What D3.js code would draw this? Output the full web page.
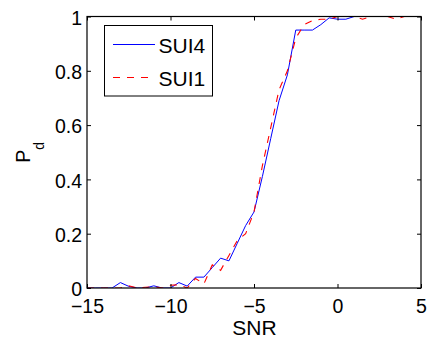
<!DOCTYPE html>
<html>
<head>
<meta charset="utf-8">
<script src="https://cdn.jsdelivr.net/npm/d3@7"></script>
<style>
  html, body { margin: 0; padding: 0; background: #fff; }
  svg { display: block; }
  text { font-family: "Liberation Sans", Arial, sans-serif; fill: #000; }
</style>
</head>
<body>
<svg id="chart" width="430" height="338"></svg>
<script>
const snr = [-15, -14.5, -14, -13.5, -13, -12.5, -12, -11.5, -11, -10.5, -10, -9.5, -9, -8.5, -8, -7.5, -7, -6.5, -6, -5.5, -5, -4.5, -4, -3.5, -3, -2.5, -2, -1.5, -1, -0.5, 0, 0.5, 1, 1.5, 2, 2.5, 3, 3.5, 4, 4.5, 5];
const sui4 = [0, 0, 0, 0, 0.02, 0.006, 0, 0, 0.008, 0, 0, 0.02, 0.007, 0.04, 0.04, 0.075, 0.11, 0.10, 0.165, 0.23, 0.28, 0.41, 0.55, 0.69, 0.785, 0.95, 0.95, 0.95, 0.97, 0.995, 0.99, 0.99, 1, 1, 1, 1, 1, 1, 1, 1, 1];
const sui1 = [0, 0, 0, 0, 0, 0.008, 0, 0.003, 0.005, 0, 0.01, 0.012, 0, 0.035, 0.015, 0.085, 0.065, 0.12, 0.175, 0.2, 0.28, 0.45, 0.59, 0.73, 0.8, 0.92, 0.97, 0.985, 0.99, 0.99, 1, 1, 1, 0.99, 1, 1, 1, 0.99, 1, 1, 1];
const xTicks = [-15, -10, -5, 0, 5];
const yTicks = [0, 0.2, 0.4, 0.6, 0.8, 1];
const seriesNames = ["SUI4", "SUI1"];

const svg = d3.select("#chart");
const L = 87, R = 421, T = 16.5, B = 288;
const x = d3.scaleLinear().domain([-15, 5]).range([L, R]);
const y = d3.scaleLinear().domain([0, 1]).range([B, T]);
const fs = 19.5;
const tickLen = 4;

svg.append("clipPath").attr("id", "clip")
  .append("rect").attr("x", L).attr("y", T - 2).attr("width", R - L).attr("height", B - T + 2);

// lines
const line = (vals) => d3.line().x((d, i) => x(snr[i])).y(d => y(d))(vals);
const g = svg.append("g").attr("clip-path", "url(#clip)");
g.append("path").attr("d", line(sui4)).attr("fill", "none")
  .attr("stroke", "#0000ff").attr("stroke-width", 1);
g.append("path").attr("d", line(sui1)).attr("fill", "none")
  .attr("stroke", "#ff0000").attr("stroke-width", 1.1).attr("stroke-dasharray", "7,7");

// axes with inward ticks
const fmt = d => (d < 0 ? "\u2212" + Math.abs(d) : String(d));
const xAxis = svg.append("g").attr("transform", `translate(0,${B})`)
  .call(d3.axisBottom(x).tickValues(xTicks).tickSizeInner(-tickLen).tickSizeOuter(0).tickPadding(11.5).tickFormat(fmt));
const yAxis = svg.append("g").attr("transform", `translate(${L},0)`)
  .call(d3.axisLeft(y).tickValues(yTicks).tickSizeInner(-tickLen).tickSizeOuter(0).tickPadding(5).tickFormat(d => String(d)));
const xTop = svg.append("g").attr("transform", `translate(0,${T})`)
  .call(d3.axisTop(x).tickValues(xTicks).tickSizeInner(-tickLen).tickSizeOuter(0).tickFormat(""));
const yRight = svg.append("g").attr("transform", `translate(${R},0)`)
  .call(d3.axisRight(y).tickValues(yTicks).tickSizeInner(-tickLen).tickSizeOuter(0).tickFormat(""));
[xAxis, yAxis, xTop, yRight].forEach(a => {
  a.select(".domain").remove();
  a.selectAll("line").attr("stroke", "#000").attr("stroke-width", 1);
  a.selectAll("text").style("font-size", fs + "px").style("font-family", '"Liberation Sans", Arial, sans-serif').attr("fill", "#000");
});
xAxis.selectAll("text").attr("dy", "0.71em");
yAxis.selectAll("text").attr("dy", "0.4em");

// frame
svg.append("rect").attr("x", L).attr("y", T).attr("width", R - L).attr("height", B - T)
  .attr("fill", "none").attr("stroke", "#000").attr("stroke-width", 1.2);

// axis labels
svg.append("text").attr("x", (L + R) / 2 + 0.5).attr("y", 335)
  .attr("text-anchor", "middle").style("font-size", "21px").text("SNR");
const yl = svg.append("text").attr("transform", `translate(30,${(T + B) / 2}) rotate(-90)`)
  .attr("text-anchor", "middle").style("font-size", fs + "px");
yl.append("tspan").text("P");
yl.append("tspan").attr("dy", 13.5).style("font-size", "14px").text("d");

// legend
const lg = svg.append("g");
lg.append("rect").attr("x", 104.5).attr("y", 25.5).attr("width", 108).attr("height", 70.5)
  .attr("fill", "#fff").attr("stroke", "#000").attr("stroke-width", 1);
const legY = [44.5, 77.5];
const legStyle = [{ c: "#0000ff", d: null }, { c: "#ff0000", d: "7,7" }];
seriesNames.forEach((n, i) => {
  lg.append("line").attr("x1", 113).attr("x2", 155).attr("y1", legY[i]).attr("y2", legY[i])
    .attr("stroke", legStyle[i].c).attr("stroke-width", 1).attr("stroke-dasharray", legStyle[i].d);
  lg.append("text").attr("x", 158.5).attr("y", legY[i] + 8.5).style("font-size", "21px").text(n);
});
</script>
</body>
</html>
